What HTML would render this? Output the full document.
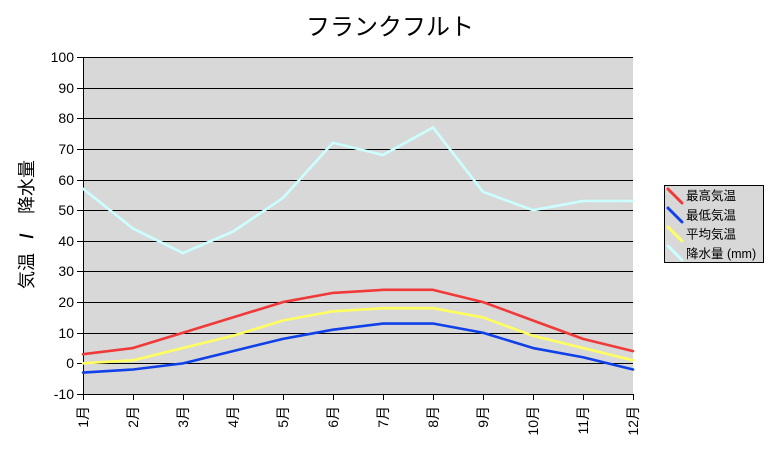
<!DOCTYPE html>
<html>
<head>
<meta charset="utf-8">
<style>
html,body{margin:0;padding:0;background:#fff;}
svg{display:block;font-family:"Liberation Sans","Noto Sans CJK JP",sans-serif;}
</style>
</head>
<body>
<svg width="782" height="450" viewBox="0 0 782 450" xmlns="http://www.w3.org/2000/svg">
<rect x="0" y="0" width="782" height="450" fill="#ffffff"/>
<!-- title -->
<text x="390" y="35" font-size="24" text-anchor="middle" fill="#000">フランクフルト</text>
<!-- plot area -->
<rect x="83" y="57" width="550" height="337" fill="#d8d8d8"/>
<!-- gridlines -->
<g stroke="#000" stroke-width="1" shape-rendering="crispEdges">
<line x1="77" y1="57.5" x2="633" y2="57.5"/>
<line x1="77" y1="88.5" x2="633" y2="88.5"/>
<line x1="77" y1="118.5" x2="633" y2="118.5"/>
<line x1="77" y1="149.5" x2="633" y2="149.5"/>
<line x1="77" y1="180.5" x2="633" y2="180.5"/>
<line x1="77" y1="210.5" x2="633" y2="210.5"/>
<line x1="77" y1="241.5" x2="633" y2="241.5"/>
<line x1="77" y1="271.5" x2="633" y2="271.5"/>
<line x1="77" y1="302.5" x2="633" y2="302.5"/>
<line x1="77" y1="333.5" x2="633" y2="333.5"/>
<line x1="77" y1="363.5" x2="633" y2="363.5"/>
<line x1="77" y1="394.5" x2="634" y2="394.5"/>
<line x1="83.5" y1="57" x2="83.5" y2="400"/>
<line x1="133.5" y1="394" x2="133.5" y2="400"/>
<line x1="183.5" y1="394" x2="183.5" y2="400"/>
<line x1="233.5" y1="394" x2="233.5" y2="400"/>
<line x1="283.5" y1="394" x2="283.5" y2="400"/>
<line x1="333.5" y1="394" x2="333.5" y2="400"/>
<line x1="383.5" y1="394" x2="383.5" y2="400"/>
<line x1="433.5" y1="394" x2="433.5" y2="400"/>
<line x1="483.5" y1="394" x2="483.5" y2="400"/>
<line x1="533.5" y1="394" x2="533.5" y2="400"/>
<line x1="583.5" y1="394" x2="583.5" y2="400"/>
<line x1="633.5" y1="394" x2="633.5" y2="400"/>
</g>
<!-- y tick labels -->
<g font-size="14" text-anchor="end" fill="#000">
<text x="74" y="62">100</text>
<text x="74" y="93">90</text>
<text x="74" y="123">80</text>
<text x="74" y="154">70</text>
<text x="74" y="185">60</text>
<text x="74" y="215">50</text>
<text x="74" y="246">40</text>
<text x="74" y="276">30</text>
<text x="74" y="307">20</text>
<text x="74" y="338">10</text>
<text x="74" y="368">0</text>
<text x="74" y="399">-10</text>
</g>
<!-- x labels -->
<g font-size="14" text-anchor="end" fill="#000">
<text transform="translate(88,406) rotate(-90)">1月</text>
<text transform="translate(138,406) rotate(-90)">2月</text>
<text transform="translate(188,406) rotate(-90)">3月</text>
<text transform="translate(238,406) rotate(-90)">4月</text>
<text transform="translate(288,406) rotate(-90)">5月</text>
<text transform="translate(338,406) rotate(-90)">6月</text>
<text transform="translate(388,406) rotate(-90)">7月</text>
<text transform="translate(438,406) rotate(-90)">8月</text>
<text transform="translate(488,406) rotate(-90)">9月</text>
<text transform="translate(538,406) rotate(-90)">10月</text>
<text transform="translate(588,406) rotate(-90)">11月</text>
<text transform="translate(638,406) rotate(-90)">12月</text>
</g>
<!-- y axis title -->
<g font-size="18" text-anchor="middle" fill="#000">
<text transform="translate(33,271) rotate(-90)">気温</text>
<text transform="translate(33,236) rotate(-90)" font-weight="bold">/</text>
<text transform="translate(33,187) rotate(-90)">降水量</text>
</g>
<!-- series -->
<g fill="none" stroke-linejoin="round" stroke-linecap="round">
<polyline stroke="#f03a3a" stroke-width="2.6" points="83,354.17 133,348.04 183,332.73 233,317.41 283,302.09 333,292.9 383,289.83 433,289.83 483,302.09 533,320.47 583,338.85 633,351.11"/>
<polyline stroke="#1040e8" stroke-width="2.6" points="83,372.55 133,369.49 183,363.36 233,351.11 283,338.85 333,329.66 383,323.53 433,323.53 483,332.73 533,348.04 583,357.23 633,369.49"/>
<polyline stroke="#ffff60" stroke-width="2.6" points="83,363.36 133,360.3 183,348.04 233,335.79 283,320.47 333,311.28 383,308.21 433,308.21 483,317.41 533,335.79 583,348.04 633,360.3"/>
<polyline stroke="#ccffff" stroke-width="2.6" points="83,188.7 133,228.56 183,253.07 233,231.62 283,197.93 333,142.78 383,155.03 433,127.46 483,191.8 533,210.18 583,200.99 633,200.99"/>
</g>
<!-- legend -->
<rect x="664.5" y="185.5" width="99" height="77" fill="#d8d8d8" stroke="#000" stroke-width="1"/>
<g stroke-width="3" stroke-linecap="round">
<line x1="668" y1="189" x2="682" y2="203" stroke="#f03a3a"/>
<line x1="668" y1="208" x2="682" y2="222" stroke="#1040e8"/>
<line x1="668" y1="227" x2="682" y2="241" stroke="#ffff60"/>
<line x1="668" y1="246" x2="682" y2="260" stroke="#ccffff"/>
</g>
<g font-size="12.5" fill="#000">
<text x="686" y="200">最高気温</text>
<text x="686" y="219.5">最低気温</text>
<text x="686" y="238.5">平均気温</text>
<text x="686" y="258">降水量 (mm)</text>
</g>
</svg>
</body>
</html>
